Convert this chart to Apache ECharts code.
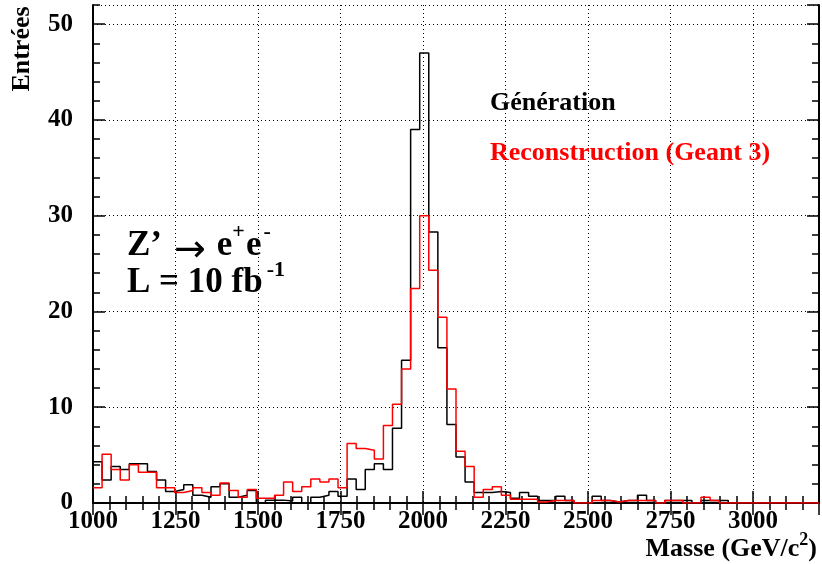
<!DOCTYPE html>
<html><head><meta charset="utf-8">
<script src="https://cdn.jsdelivr.net/npm/echarts@6/dist/echarts.min.js"></script>
<style>html,body{margin:0;padding:0;background:#fff}#c{width:822px;height:564px}</style>
</head><body><div id="c"></div>
<script>
// Histogram binning (80 bins from 1000 to 3200 GeV)
const BIN_MIN = 1000;
const BIN_WIDTH = 27.5;
const X_MIN = 1000, X_MAX = 3200, X_STEP = 250, X_MINOR = 50;
const Y_MIN = 0, Y_MAX = 52, Y_STEP = 10, Y_MINOR = 2;

const seriesNames = ['Génération', 'Reconstruction (Geant 3)'];

const generation = [
  4.3, 2.4, 3.8, 3.5, 4.1, 4.1, 3.3, 2.4, 1.2, 1.4,
  1.9, 0.8, 0.6, 1.7, 2.0, 0.6, 0.8, 1.3, 0, 0.3,
  0.3, 0.2, 0.6, 0, 0.6, 0.8, 1.2, 0.7, 2.5, 1.4,
  3.5, 4.1, 3.5, 7.8, 14.9, 39, 47, 28.3, 16.2, 8.2,
  4.8, 2.2, 1.1, 1.1, 1.2, 1.1, 0.5, 1.1, 0.7, 0.25,
  0.25, 0.7, 0.25, 0, 0, 0.7, 0.25, 0.1, 0.25, 0.25,
  0.8, 0.25, 0, 0.25, 0.25, 0.25, 0, 0.25, 0.25, 0.25,
  0, 0, 0, 0, 0, 0, 0, 0, 0, 0
];

const reconstruction = [
  1.6, 5.1, 3.5, 2.4, 4.0, 3.2, 3.2, 1.6, 1.6, 1.1,
  1.3, 1.6, 1.1, 0.8, 2.1, 1.3, 0.6, 1.4, 0.5, 0.5,
  0.8, 2.2, 1.2, 1.7, 2.5, 2.2, 2.5, 1.6, 6.2, 5.7,
  5.5, 4.6, 8.1, 10.3, 14.0, 22.4, 30, 24.3, 19.4, 11.9,
  5.4, 3.8, 0.6, 1.4, 1.7, 0.8, 0.4, 0.4, 0.4, 0.1,
  0.25, 0.25, 0.25, 0, 0, 0.25, 0.25, 0.1, 0.25, 0.25,
  0.25, 0.25, 0, 0.25, 0.25, 0, 0, 0.6, 0.25, 0,
  0, 0, 0, 0, 0, 0, 0, 0, 0, 0
];

const F = 'Liberation Serif';

function histPoints(vals) {
  const pts = vals.map((v, i) => [BIN_MIN + i * BIN_WIDTH, v]);
  pts.push([BIN_MIN + vals.length * BIN_WIDTH, vals[vals.length - 1]]);
  return pts;
}

const lineBlack = {color: '#000', width: 2};
function xAx(pos, interval, len, extra) {
  return Object.assign({
    type: 'value', min: X_MIN, max: X_MAX, interval: interval, position: pos,
    axisLine: {show: false}, axisLabel: {show: false}, splitLine: {show: false},
    axisTick: {show: true, inside: true, length: len, lineStyle: {color: '#000', width: 1.5}}
  }, extra || {});
}
function yAx(pos, interval, len, extra) {
  return Object.assign({
    type: 'value', min: Y_MIN, max: Y_MAX, interval: interval, position: pos,
    axisLine: {show: false}, axisLabel: {show: false}, splitLine: {show: false},
    axisTick: {show: true, inside: true, length: len, lineStyle: {color: '#000', width: 1.5}}
  }, extra || {});
}

// ---- text layout helpers (superscripts placed as separate text pieces) ----
const mctx = document.createElement('canvas').getContext('2d');
function fontOf(p) { return (p.weight || 'bold') + ' ' + p.size + 'px ' + (p.family || F); }
function textW(p) { mctx.font = fontOf(p); return mctx.measureText(p.t).width; }
function layoutLine(pieces, startX, alignRight) {
  let total = 0;
  pieces.forEach(p => { total += (p.gap || 0) + (p.t ? textW(p) : 0); });
  let x = alignRight ? startX - total : startX;
  const out = [];
  pieces.forEach(p => {
    x += (p.gap || 0);
    if (!p.t) return;
    const w = textW(p);
    out.push({type: 'text', x: x, y: p.y != null ? p.y : p.baseline - 0.3375 * p.size, silent: true,
      style: {text: p.t, fontFamily: p.family || F, fontWeight: p.weight || 'bold', fontSize: p.size,
              fill: '#000', align: 'left', verticalAlign: 'middle'}});
    x += w;
  });
  return out;
}

const textEls = []
  .concat(layoutLine([
    {t: 'Z’', size: 35, baseline: 258},
    {t: '→', size: 38, family: 'DejaVu Sans', weight: 'normal', y: 251, gap: 12},
    {t: 'e', size: 35, baseline: 258, gap: 11},
    {t: '+', size: 22, baseline: 240},
    {t: 'e', size: 35, baseline: 258, gap: 1},
    {t: '-', size: 22, baseline: 240, gap: 2}
  ], 127, false))
  .concat(layoutLine([
    {t: 'L = 10 fb', size: 35, baseline: 295},
    {t: '-1', size: 22, baseline: 278, gap: 4}
  ], 127, false))
  .concat(layoutLine([
    {t: 'Masse (GeV/c', size: 26, baseline: 558},
    {t: '2', size: 18, baseline: 546},
    {t: ')', size: 26, baseline: 558}
  ], 817, true));

const chart = echarts.init(document.getElementById('c'), null, {renderer: 'canvas'});
chart.setOption({
  animation: false,
  backgroundColor: '#fff',
  grid: {left: 93, right: 3, top: 5, bottom: 61, containLabel: false},
  legend: {
    orient: 'vertical', left: 480, top: 85, itemWidth: 0, itemHeight: 0, itemGap: 24,
    icon: 'none', selectedMode: false,
    textStyle: {fontFamily: F, fontWeight: 'bold', fontSize: 26},
    data: [
      {name: seriesNames[0], textStyle: {color: '#000'}},
      {name: seriesNames[1], textStyle: {color: '#f00'}}
    ]
  },
  xAxis: [
    xAx('bottom', X_STEP, 12, {
      axisLine: {show: true, lineStyle: lineBlack},
      axisLabel: {show: true, fontFamily: F, fontWeight: 'bold', fontSize: 25, color: '#000', margin: 6,
        showMaxLabel: false, formatter: v => (v % X_STEP === 0 && v <= 3000) ? String(v) : ''},
      splitLine: {show: true, lineStyle: {color: '#000', width: 1, type: [1, 3]}}
    }),
    xAx('bottom', X_MINOR, 7),
    xAx('top', X_STEP, 12, {axisLine: {show: true, lineStyle: lineBlack}}),
    xAx('top', X_MINOR, 7)
  ],
  yAxis: [
    yAx('left', Y_STEP, 12, {
      axisLine: {show: true, lineStyle: lineBlack},
      axisLabel: {show: true, fontFamily: F, fontWeight: 'bold', fontSize: 25, color: '#000', margin: 20,
        showMaxLabel: false, formatter: v => (v % Y_STEP === 0) ? String(v) : ''},
      splitLine: {show: true, lineStyle: {color: '#000', width: 1, type: [1, 3]}}
    }),
    yAx('left', Y_MINOR, 7),
    yAx('right', Y_STEP, 12, {axisLine: {show: true, lineStyle: lineBlack}}),
    yAx('right', Y_MINOR, 7)
  ],
  series: [
    {name: seriesNames[0], type: 'line', step: 'end', symbol: 'none', xAxisIndex: 0, yAxisIndex: 0,
     lineStyle: {color: '#000', width: 1.5}, itemStyle: {color: '#000'}, data: histPoints(generation), z: 3},
    {name: seriesNames[1], type: 'line', step: 'end', symbol: 'none', xAxisIndex: 0, yAxisIndex: 0,
     lineStyle: {color: '#f00', width: 1.5}, itemStyle: {color: '#f00'}, data: histPoints(reconstruction), z: 4}
  ],
  graphic: [
    {type: 'text', x: 22, y: 49, rotation: Math.PI / 2,
     style: {text: 'Entrées', fontFamily: F, fontWeight: 'bold', fontSize: 26, fill: '#000', align: 'center', verticalAlign: 'middle'}}
  ].concat(textEls)
});
</script></body></html>
